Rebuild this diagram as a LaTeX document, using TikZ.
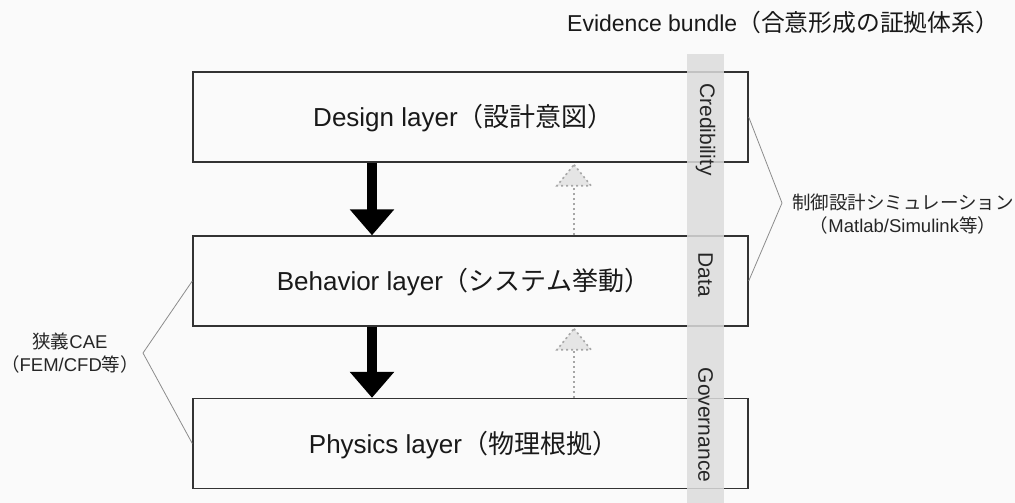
\documentclass[tikz,border=0pt]{standalone}
\usepackage{fontspec}
\setmainfont{Liberation Sans}
\newfontfamily\cjk{Noto Sans CJK JP}
\usepackage{tikz}
\usetikzlibrary{arrows.meta,calc}
\def\jp#1{{\cjk #1}}
\definecolor{bandgray}{HTML}{DCDCDC}
\definecolor{paper}{HTML}{FAFAFA}

\begin{document}
\begin{tikzpicture}[x=1pt,y=-1pt,
  layer/.style={draw=black!80,line width=1.4pt,minimum width=555pt,minimum height=90pt,inner sep=0pt},
  lbl/.style={font=\fontsize{26}{30}\selectfont,text=black!90,inner sep=0pt,anchor=base},
  side/.style={font=\fontsize{21}{24}\selectfont,text=black!85,rotate=-90,inner sep=0pt},
  note/.style={font=\fontsize{18.5}{23}\selectfont,text=black!85,align=center,inner sep=0pt},
  down/.style={line width=10pt,-{Triangle[width=43pt,length=26pt]}},
  up/.style={black!35,line width=2pt,dash pattern=on 2pt off 3pt},
  brace/.style={black!45,line width=0.8pt}]
  \fill[paper] (0,0) rectangle (1015,503);
  \useasboundingbox (0,0) rectangle (1015,503);

  % the three layers
  \node[layer] (design) at (470.5,117) {};
  \node[layer] (behavior) at (470.5,281) {};
  \node[layer] (physics) at (470.5,443.5) {};
  \node[lbl] (designtxt) at (design.center) [xshift=-7pt,yshift=-9.5pt]{Design layer\jp{（設計意図）}};
  \node[lbl] (behaviortxt) at (behavior.center) [xshift=-7pt,yshift=-9.5pt]{Behavior layer\jp{（システム挙動）}};
  \node[lbl] (physicstxt) at (physics.center) [xshift=-7pt,yshift=-9.5pt]{Physics layer\jp{（物理根拠）}};

  % downward refinement
  \coordinate (downx) at (372,0);
  \draw[down] (design.south -| downx) -- (behavior.north -| downx);
  \draw[down] (behavior.south -| downx) -- (physics.north -| downx);

  % upward evidence, dotted
  \coordinate (upx) at (574,0);
  \draw[up] (behavior.north -| upx) -- ($(design.south -| upx)+(0,23)$);
  \filldraw[up,fill=black!10,line width=1.6pt] ($(design.south -| upx)+(0,2)$) -- ++(17,21) -- ++(-34,0) -- cycle;
  \draw[up] (physics.north -| upx) -- ($(behavior.south -| upx)+(0,23)$);
  \filldraw[up,fill=black!10,line width=1.6pt] ($(behavior.south -| upx)+(0,2)$) -- ++(17,21) -- ++(-34,0) -- cycle;

  % evidence band
  \fill[bandgray,opacity=.85] (687,54) rectangle (724,503);
  \node[side] (cred) at (705.5,129.5) {Credibility};
  \node[side] (data) at (705.5,275) {Data};
  \node[side] (gov) at (705.5,425) {Governance};
  \node[inner sep=0pt,anchor=base west,text=black!90] (title) at (567,32)
    {\fontsize{23}{28}\selectfont Evidence bundle\jp{\fontsize{23.8}{28}\selectfont（合意形成の証拠体系）}};

  % scope brackets
  \coordinate (lapex) at (143,353);
  \draw[brace] (behavior.west) -- (lapex) -- (physics.west);
  \node[note] (cae) at (70,353.5) {\jp{狭義}CAE\\\jp{（}FEM/CFD\jp{等）}};
  \coordinate (rapex) at (782,203);
  \draw[brace] (design.east) -- (rapex) -- (behavior.east);
  \node[note] (ctrl) at (903,214) {\jp{制御設計シミュレーション}\\\jp{（}Matlab/Simulink\jp{等）}};
\end{tikzpicture}
\end{document}
